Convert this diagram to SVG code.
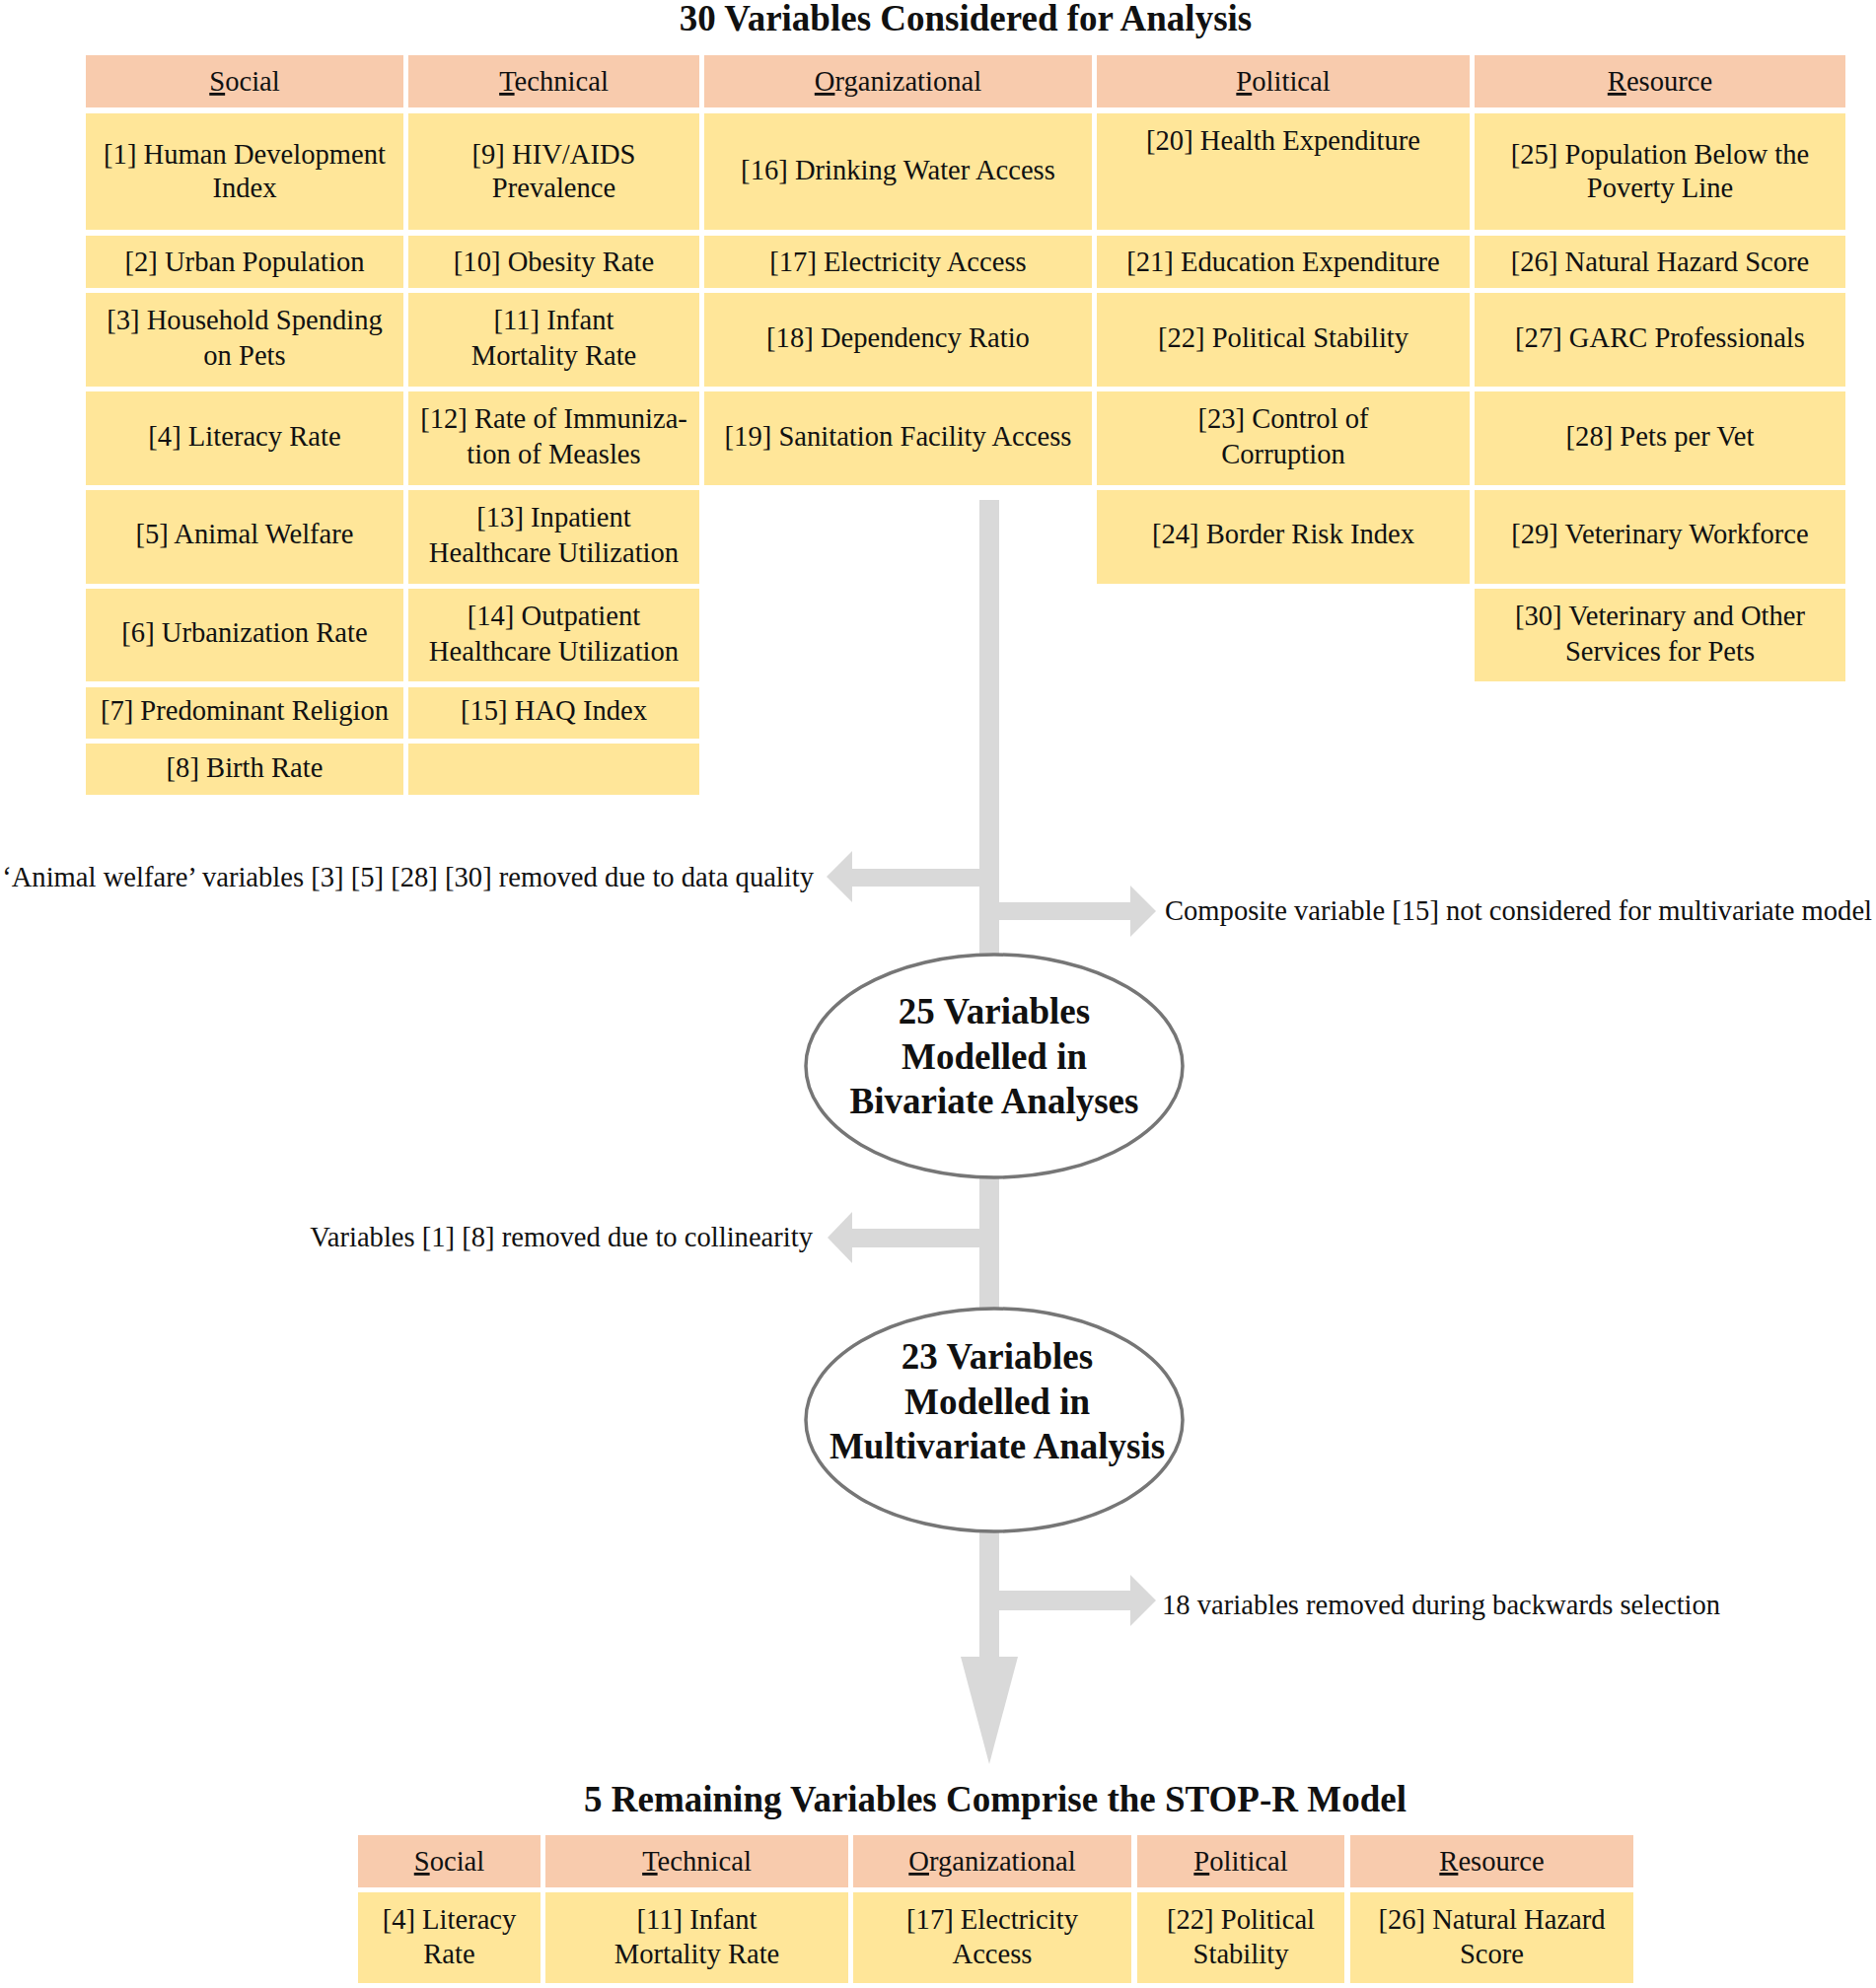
<svg xmlns="http://www.w3.org/2000/svg" width="1902" height="2016" viewBox="0 0 1902 2016">
<style>
.hdr{fill:#F8CBAD}
.cell{fill:#FFE699}
.t{font-family:"Liberation Serif","Times New Roman",serif;font-size:28.6px;fill:#111;text-anchor:middle}
.tl{font-family:"Liberation Serif","Times New Roman",serif;font-size:28.6px;fill:#111}
.b{font-family:"Liberation Serif","Times New Roman",serif;font-size:37px;font-weight:bold;fill:#111;text-anchor:middle}
.u{text-decoration:underline}
.conn{fill:#D9D9D9}
.ell{fill:#fff;stroke:#767676;stroke-width:3.5}
</style>
<rect width="1902" height="2016" fill="#fff"/>

<g id="title-top"><text class="b" x="979" y="31">30 Variables Considered for Analysis</text></g>

<!-- Headers -->
<g id="h-social"><rect class="hdr" x="87" y="56" width="322" height="53"/><text class="t" x="248" y="92"><tspan class="u">S</tspan>ocial</text></g>
<g id="h-technical"><rect class="hdr" x="414" y="56" width="295" height="53"/><text class="t" x="561.5" y="92"><tspan class="u">T</tspan>echnical</text></g>
<g id="h-organizational"><rect class="hdr" x="714" y="56" width="393" height="53"/><text class="t" x="910.5" y="92"><tspan class="u">O</tspan>rganizational</text></g>
<g id="h-political"><rect class="hdr" x="1112" y="56" width="378" height="53"/><text class="t" x="1301" y="92"><tspan class="u">P</tspan>olitical</text></g>
<g id="h-resource"><rect class="hdr" x="1495" y="56" width="376" height="53"/><text class="t" x="1683" y="92"><tspan class="u">R</tspan>esource</text></g>

<!-- Social -->
<g id="v1"><rect class="cell" x="87" y="115" width="322" height="118"/><text class="t" x="248" y="166">[1] Human Development</text><text class="t" x="248" y="200">Index</text></g>
<g id="v2"><rect class="cell" x="87" y="239" width="322" height="53"/><text class="t" x="248" y="275">[2] Urban Population</text></g>
<g id="v3"><rect class="cell" x="87" y="297" width="322" height="95"/><text class="t" x="248" y="334">[3] Household Spending</text><text class="t" x="248" y="370">on Pets</text></g>
<g id="v4"><rect class="cell" x="87" y="397" width="322" height="95"/><text class="t" x="248" y="452">[4] Literacy Rate</text></g>
<g id="v5"><rect class="cell" x="87" y="497" width="322" height="95"/><text class="t" x="248" y="551">[5] Animal Welfare</text></g>
<g id="v6"><rect class="cell" x="87" y="597" width="322" height="94"/><text class="t" x="248" y="651">[6] Urbanization Rate</text></g>
<g id="v7"><rect class="cell" x="87" y="697" width="322" height="52"/><text class="t" x="248" y="730">[7] Predominant Religion</text></g>
<g id="v8"><rect class="cell" x="87" y="754" width="322" height="52"/><text class="t" x="248" y="788">[8] Birth Rate</text></g>

<!-- Technical -->
<g id="v9"><rect class="cell" x="414" y="115" width="295" height="118"/><text class="t" x="561.5" y="166">[9] HIV/AIDS</text><text class="t" x="561.5" y="200">Prevalence</text></g>
<g id="v10"><rect class="cell" x="414" y="239" width="295" height="53"/><text class="t" x="561.5" y="275">[10] Obesity Rate</text></g>
<g id="v11"><rect class="cell" x="414" y="297" width="295" height="95"/><text class="t" x="561.5" y="334">[11] Infant</text><text class="t" x="561.5" y="370">Mortality Rate</text></g>
<g id="v12"><rect class="cell" x="414" y="397" width="295" height="95"/><text class="t" x="561.5" y="434">[12] Rate of Immuniza-</text><text class="t" x="561.5" y="470">tion of Measles</text></g>
<g id="v13"><rect class="cell" x="414" y="497" width="295" height="95"/><text class="t" x="561.5" y="534">[13] Inpatient</text><text class="t" x="561.5" y="570">Healthcare Utilization</text></g>
<g id="v14"><rect class="cell" x="414" y="597" width="295" height="94"/><text class="t" x="561.5" y="634">[14] Outpatient</text><text class="t" x="561.5" y="670">Healthcare Utilization</text></g>
<g id="v15"><rect class="cell" x="414" y="697" width="295" height="52"/><text class="t" x="561.5" y="730">[15] HAQ Index</text></g>
<g id="tech-empty"><rect class="cell" x="414" y="754" width="295" height="52"/></g>

<!-- Organizational -->
<g id="v16"><rect class="cell" x="714" y="115" width="393" height="118"/><text class="t" x="910.5" y="182">[16] Drinking Water Access</text></g>
<g id="v17"><rect class="cell" x="714" y="239" width="393" height="53"/><text class="t" x="910.5" y="275">[17] Electricity Access</text></g>
<g id="v18"><rect class="cell" x="714" y="297" width="393" height="95"/><text class="t" x="910.5" y="352">[18] Dependency Ratio</text></g>
<g id="v19"><rect class="cell" x="714" y="397" width="393" height="95"/><text class="t" x="910.5" y="452">[19] Sanitation Facility Access</text></g>

<!-- Political -->
<g id="v20"><rect class="cell" x="1112" y="115" width="378" height="118"/><text class="t" x="1301" y="152">[20] Health Expenditure</text></g>
<g id="v21"><rect class="cell" x="1112" y="239" width="378" height="53"/><text class="t" x="1301" y="275">[21] Education Expenditure</text></g>
<g id="v22"><rect class="cell" x="1112" y="297" width="378" height="95"/><text class="t" x="1301" y="352">[22] Political Stability</text></g>
<g id="v23"><rect class="cell" x="1112" y="397" width="378" height="95"/><text class="t" x="1301" y="434">[23] Control of</text><text class="t" x="1301" y="470">Corruption</text></g>
<g id="v24"><rect class="cell" x="1112" y="497" width="378" height="95"/><text class="t" x="1301" y="551">[24] Border Risk Index</text></g>

<!-- Resource -->
<g id="v25"><rect class="cell" x="1495" y="115" width="376" height="118"/><text class="t" x="1683" y="166">[25] Population Below the</text><text class="t" x="1683" y="200">Poverty Line</text></g>
<g id="v26"><rect class="cell" x="1495" y="239" width="376" height="53"/><text class="t" x="1683" y="275">[26] Natural Hazard Score</text></g>
<g id="v27"><rect class="cell" x="1495" y="297" width="376" height="95"/><text class="t" x="1683" y="352">[27] GARC Professionals</text></g>
<g id="v28"><rect class="cell" x="1495" y="397" width="376" height="95"/><text class="t" x="1683" y="452">[28] Pets per Vet</text></g>
<g id="v29"><rect class="cell" x="1495" y="497" width="376" height="95"/><text class="t" x="1683" y="551">[29] Veterinary Workforce</text></g>
<g id="v30"><rect class="cell" x="1495" y="597" width="376" height="94"/><text class="t" x="1683" y="634">[30] Veterinary and Other</text><text class="t" x="1683" y="670">Services for Pets</text></g>

<!-- Connectors -->
<g id="connectors">
<rect class="conn" x="993" y="507" width="20" height="1175"/>
<rect class="conn" x="863" y="881" width="131" height="18"/>
<polygon class="conn" points="864,863 838,889 864,915"/>
<rect class="conn" x="1012" y="915" width="135" height="18"/>
<polygon class="conn" points="1146,898 1172,924 1146,950"/>
<rect class="conn" x="863" y="1246" width="131" height="19"/>
<polygon class="conn" points="864,1229 839,1255 864,1281"/>
<rect class="conn" x="1012" y="1613" width="135" height="20"/>
<polygon class="conn" points="1146,1597 1172,1623 1146,1649"/>
<polygon class="conn" points="974,1680 1032,1680 1003,1789"/>
</g>

<g id="lbl-animal"><text class="t" x="825" y="899" style="text-anchor:end">‘Animal welfare’ variables [3] [5] [28] [30] removed due to data quality</text></g>
<g id="lbl-composite"><text class="tl" x="1181" y="933">Composite variable [15] not considered for multivariate model</text></g>
<g id="lbl-collinear"><text class="t" x="824" y="1264" style="text-anchor:end">Variables [1] [8] removed due to collinearity</text></g>
<g id="lbl-backwards"><text class="tl" x="1178" y="1637">18 variables removed during backwards selection</text></g>

<g id="bivariate"><ellipse class="ell" cx="1008" cy="1081" rx="191" ry="113"/><text class="b" x="1008" y="1038">25 Variables</text><text class="b" x="1008" y="1084">Modelled in</text><text class="b" x="1008" y="1129">Bivariate Analyses</text></g>
<g id="multivariate"><ellipse class="ell" cx="1008" cy="1440" rx="191" ry="113"/><text class="b" x="1011" y="1388">23 Variables</text><text class="b" x="1011" y="1434">Modelled in</text><text class="b" x="1011" y="1479">Multivariate Analysis</text></g>

<g id="title-bottom"><text class="b" x="1009" y="1837">5 Remaining Variables Comprise the STOP-R Model</text></g>

<g id="bh-social"><rect class="hdr" x="363" y="1861" width="185" height="53"/><text class="t" x="455.5" y="1897"><tspan class="u">S</tspan>ocial</text></g>
<g id="bh-technical"><rect class="hdr" x="553" y="1861" width="307" height="53"/><text class="t" x="706.5" y="1897"><tspan class="u">T</tspan>echnical</text></g>
<g id="bh-organizational"><rect class="hdr" x="865" y="1861" width="282" height="53"/><text class="t" x="1006" y="1897"><tspan class="u">O</tspan>rganizational</text></g>
<g id="bh-political"><rect class="hdr" x="1153" y="1861" width="210" height="53"/><text class="t" x="1258" y="1897"><tspan class="u">P</tspan>olitical</text></g>
<g id="bh-resource"><rect class="hdr" x="1369" y="1861" width="287" height="53"/><text class="t" x="1512.5" y="1897"><tspan class="u">R</tspan>esource</text></g>

<g id="b4"><rect class="cell" x="363" y="1919" width="185" height="92"/><text class="t" x="455.5" y="1956">[4] Literacy</text><text class="t" x="455.5" y="1991">Rate</text></g>
<g id="b11"><rect class="cell" x="553" y="1919" width="307" height="92"/><text class="t" x="706.5" y="1956">[11] Infant</text><text class="t" x="706.5" y="1991">Mortality Rate</text></g>
<g id="b17"><rect class="cell" x="865" y="1919" width="282" height="92"/><text class="t" x="1006" y="1956">[17] Electricity</text><text class="t" x="1006" y="1991">Access</text></g>
<g id="b22"><rect class="cell" x="1153" y="1919" width="210" height="92"/><text class="t" x="1258" y="1956">[22] Political</text><text class="t" x="1258" y="1991">Stability</text></g>
<g id="b26"><rect class="cell" x="1369" y="1919" width="287" height="92"/><text class="t" x="1512.5" y="1956">[26] Natural Hazard</text><text class="t" x="1512.5" y="1991">Score</text></g>
</svg>
